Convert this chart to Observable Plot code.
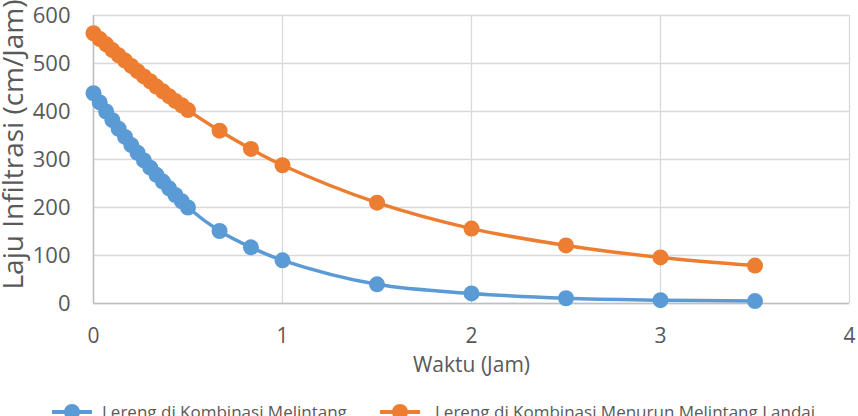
<!DOCTYPE html>
<html>
<head>
<meta charset="utf-8">
<script src="https://cdn.jsdelivr.net/npm/d3@7"></script>
<script src="https://cdn.jsdelivr.net/npm/@observablehq/plot@0.6"></script>
<style>
  html, body { margin: 0; padding: 0; background: #fff; overflow: hidden; width: 858px; height: 416px; }
  #chart svg { display: block; }
  #legend { position: relative; height: 40px; font-family: "Open Sans", sans-serif; font-size: 17px; color: #595959; }
  .item { position: absolute; top: 6px; display: flex; align-items: center; white-space: nowrap; }
  .sw { width: 16px; height: 16px; border-radius: 50%; display: inline-block; position: relative; }
  .sw::before { content: ""; position: absolute; left: -12px; right: -12px; top: 6px; height: 4px; background: inherit; }
</style>
</head>
<body>
<div id="chart"></div>
<div id="legend"></div>
<script>
const waktu = [0, 0.033, 0.067, 0.1, 0.133, 0.167, 0.2, 0.233, 0.267, 0.3, 0.333, 0.367, 0.4, 0.433, 0.467, 0.5, 0.667, 0.833, 1, 1.5, 2, 2.5, 3, 3.5];
const seriA = [438, 419, 400, 382, 364, 347, 330, 314, 298, 283, 268, 254, 240, 226, 213, 200, 151, 117, 90, 40, 21, 11, 7, 5];
const seriB = [563, 551, 540, 528, 517, 506, 495, 484, 473, 463, 452, 442, 432, 422, 413, 403, 360, 322, 288, 210, 156, 121, 96, 79];
const seriesNames = ["Lereng di Kombinasi Melintang", "Lereng di Kombinasi Menurun Melintang Landai"];
const colors = ["#5B9BD5", "#ED7D31"];
const xTicks = [0, 1, 2, 3, 4];
const yTicks = [0, 100, 200, 300, 400, 500, 600];

const data = [];
waktu.forEach((t, i) => {
  data.push({t, v: seriA[i], s: seriesNames[0]});
  data.push({t, v: seriB[i], s: seriesNames[1]});
});

const font = '"Open Sans", sans-serif';
const plot = Plot.plot({
  width: 858,
  height: 394,
  marginTop: 15,
  marginBottom: 91,
  marginLeft: 93,
  marginRight: 9,
  style: {fontFamily: font, fontSize: "21px", color: "#595959", background: "#fff", overflow: "visible"},
  x: {domain: [0, 4], ticks: xTicks},
  y: {domain: [0, 600], ticks: yTicks},
  color: {domain: seriesNames, range: colors},
  marks: [
    Plot.gridX(xTicks, {stroke: "#D9D9D9", strokeOpacity: 1, strokeWidth: 1.3}),
    Plot.gridY(yTicks, {stroke: "#D9D9D9", strokeOpacity: 1, strokeWidth: 1.3}),
    Plot.ruleX([0], {stroke: "#BFBFBF", strokeWidth: 1.5}),
    Plot.ruleY([0], {stroke: "#BFBFBF", strokeWidth: 1.5}),
    Plot.axisX(xTicks, {tickSize: 0, tickPadding: 25, tickFormat: "d", label: null, fill: "#595959", fontSize: 21}),
    Plot.axisY(yTicks, {tickSize: 0, tickPadding: 23, tickFormat: "d", label: null, fill: "#595959", fontSize: 22}),
    Plot.line(data, {x: "t", y: "v", z: "s", stroke: "s", strokeWidth: 3.5, curve: "catmull-rom"}),
    Plot.dot(data, {x: "t", y: "v", fill: "s", r: 8}),
    Plot.text(["Waktu (Jam)"], {frameAnchor: "bottom", dy: 68, fill: "#595959", fontSize: 21}),
    Plot.text(["Laju Infiltrasi (cm/Jam)"], {frameAnchor: "left", textAnchor: "middle", rotate: -90, dx: -79, dy: -15, fill: "#595959", fontSize: 28})
  ]
});
document.getElementById("chart").appendChild(plot);

const legend = document.getElementById("legend");
const lx = [72, 400];
const tx0 = [102, 435];
seriesNames.forEach((n, i) => {
  const it = document.createElement("div");
  it.className = "item";
  it.style.left = (lx[i] - 8) + "px";
  const sw = document.createElement("span");
  sw.className = "sw";
  sw.style.background = colors[i];
  it.appendChild(sw);
  const tx = document.createElement("span");
  tx.textContent = n;
  tx.style.marginLeft = (tx0[i] - lx[i] - 8) + "px";
  it.appendChild(tx);
  legend.appendChild(it);
});
</script>
</body>
</html>
